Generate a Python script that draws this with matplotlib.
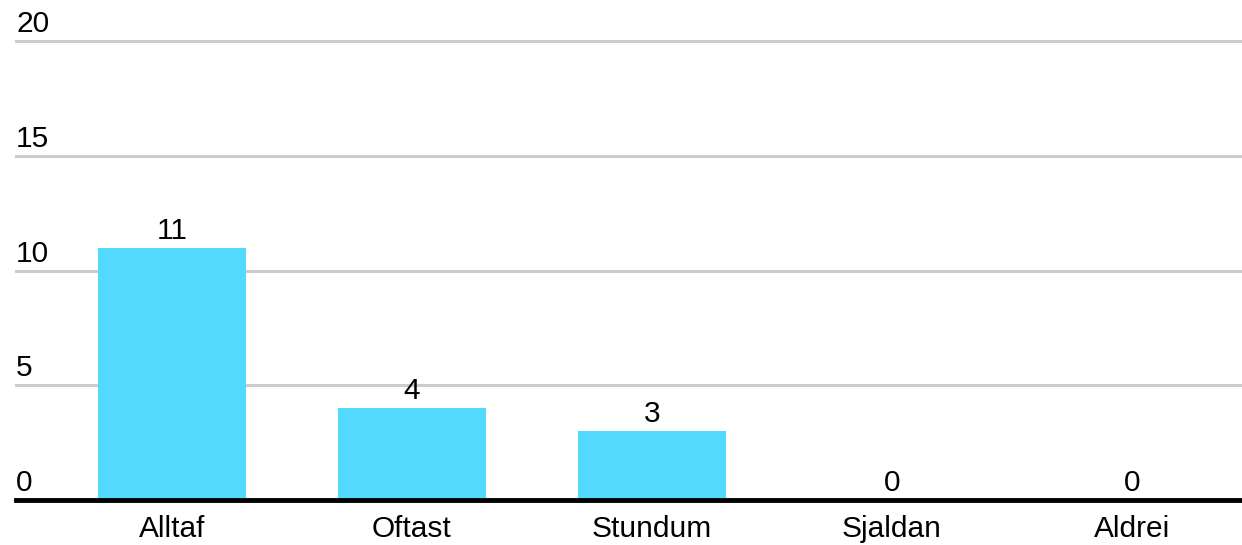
import matplotlib
matplotlib.use("Agg")
import matplotlib.pyplot as plt
import matplotlib.transforms as mtrans

categories = ["Alltaf", "Oftast", "Stundum", "Sjaldan", "Aldrei"]
values = [11, 4, 3, 0, 0]
yticks = [0, 5, 10, 15, 20]

plt.rcParams['font.family'] = ['Liberation Sans', 'DejaVu Sans']

W, H, DPI = 1242, 545, 100
fig = plt.figure(figsize=(W / DPI, H / DPI), dpi=DPI)
left_px, right_px = 16, 1242
bottom_px, top_px = 500, 41  # y pixel (from top) for 0 and 20
ax = fig.add_axes([left_px / W, (H - bottom_px) / H,
                   (right_px - left_px) / W, (bottom_px - top_px) / H])
ax.set_xlim(-0.65, 4.46)
ax.set_ylim(0, 20)
for s in ax.spines.values():
    s.set_visible(False)

x = list(range(len(categories)))
ax.bar(x, values, width=0.617, color="#55DAFF", zorder=2)

for t in yticks[1:]:
    ax.axhline(t, color="#CCCCCC", lw=2.2, zorder=1, clip_on=False)
ax.axhline(0, color="black", lw=3.5, zorder=3, clip_on=False)

FS = 21.5
off = mtrans.offset_copy(ax.transData, fig=fig, x=0, y=9, units='dots')
for xi, v in zip(x, values):
    ax.text(xi, v, str(v), ha="center", va="baseline", fontsize=FS,
            transform=off, color="black")

blend = mtrans.blended_transform_factory(ax.transAxes, ax.transData)
offy = mtrans.offset_copy(blend, fig=fig, x=0, y=9, units='dots')
for t in yticks:
    ax.text(0.0, t, str(t), ha="left", va="baseline", fontsize=FS,
            transform=offy, color="black")

ax.set_yticks([])
ax.set_xticks(x)
ax.set_xticklabels(categories, fontsize=FS, color="black")
ax.tick_params(axis="x", length=0, pad=11)

fig.savefig("out.png", dpi=DPI)
